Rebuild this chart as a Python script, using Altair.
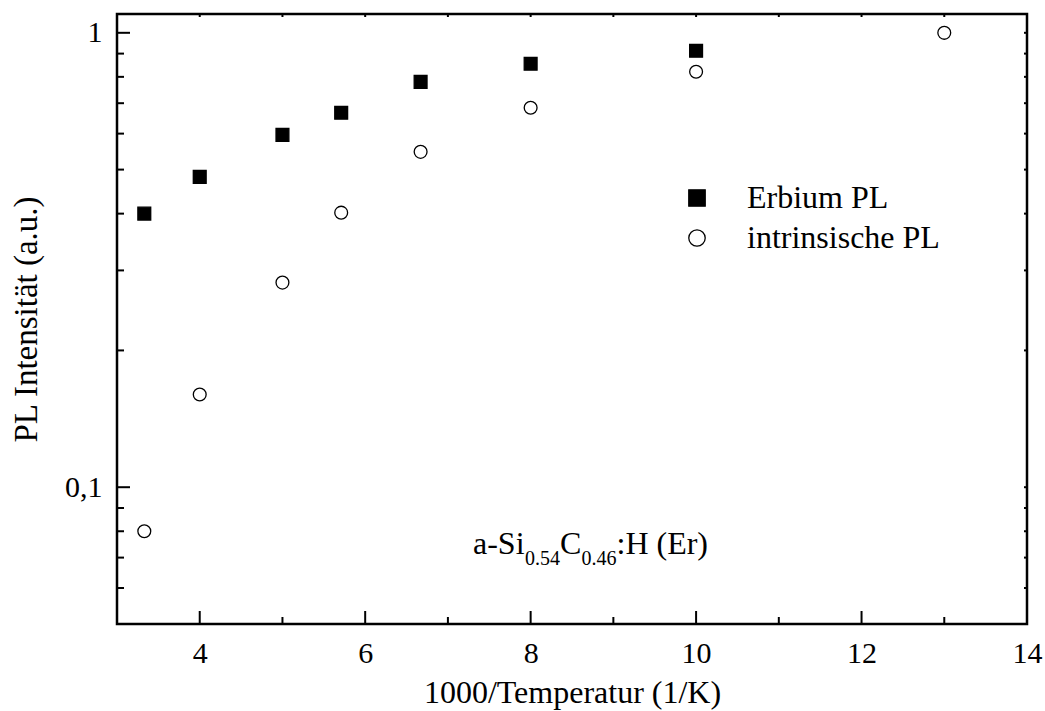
import altair as alt
import pandas as pd

# ---- data ----
inv_T = [3.33, 4.0, 5.0, 5.71, 6.67, 8.0, 10.0]
erbium_pl = [0.40, 0.482, 0.596, 0.667, 0.78, 0.855, 0.913]
inv_T_intr = [3.33, 4.0, 5.0, 5.71, 6.67, 8.0, 10.0, 13.0]
intrinsic_pl = [0.080, 0.160, 0.282, 0.402, 0.547, 0.684, 0.821, 1.0]

series_names = ["Erbium PL", "intrinsische PL"]

x_major = [4, 6, 8, 10, 12, 14]
x_minor = [5, 7, 9, 11, 13]
x_all = [4, 5, 6, 7, 8, 9, 10, 11, 12, 13]
y_major = [0.1, 1.0]
y_minor = [0.06, 0.07, 0.08, 0.09, 0.2, 0.3, 0.4, 0.5, 0.6, 0.7, 0.8, 0.9]
y_all = y_major + y_minor

FONT = "Liberation Serif"
W, H = 910, 610

df = pd.DataFrame({
    "x": inv_T + inv_T_intr,
    "y": erbium_pl + intrinsic_pl,
    "series": [series_names[0]] * len(inv_T) + [series_names[1]] * len(inv_T_intr),
})

xscale = alt.Scale(domain=[3, 14], nice=False, zero=False)
yscale = alt.Scale(type="log", domain=[0.05, 1.1], nice=False)

x_axis = alt.Axis(values=x_major, title="1000/Temperatur (1/K)", ticks=False, domain=False,
                  grid=False, labelPadding=14, titlePadding=9, labelFontSize=30,
                  titleFontSize=32, labelFont=FONT, titleFont=FONT, labelColor="black",
                  titleColor="black", titleFontWeight="normal", labelFlush=False)
y_axis = alt.Axis(values=y_major, title="PL Intensität (a.u.)", ticks=False, domain=False,
                  grid=False, labelPadding=15, titlePadding=21, labelFontSize=30,
                  titleFontSize=33, labelFont=FONT, titleFont=FONT, labelColor="black",
                  titleColor="black", titleFontWeight="normal", labelFlush=False,
                  labelExpr="replace(format(datum.value, '~g'), '.', ',')")

legend = alt.Legend(title=None, orient="none", legendX=564, legendY=168,
                    symbolSize=270, labelFontSize=32, labelFont=FONT, labelLimit=0,
                    labelColor="black", labelOffset=34, rowPadding=8, padding=0,
                    symbolStrokeColor="black", symbolStrokeWidth=1.3)

points = alt.Chart(df).mark_point(size=165, strokeWidth=1.3, opacity=1).encode(
    x=alt.X("x:Q", scale=xscale, axis=x_axis),
    y=alt.Y("y:Q", scale=yscale, axis=y_axis),
    shape=alt.Shape("series:N", scale=alt.Scale(domain=series_names, range=["square", "circle"]),
                    legend=legend),
    fill=alt.Fill("series:N", scale=alt.Scale(domain=series_names, range=["black", "white"]),
                  legend=legend),
    stroke=alt.Stroke("series:N", scale=alt.Scale(domain=series_names, range=["black", "black"]),
                      legend=legend),
)

def vrule(values, y0, y1):
    return alt.Chart(pd.DataFrame({"x": values})).mark_rule(color="black", strokeWidth=2).encode(
        x=alt.X("x:Q", scale=xscale, axis=x_axis), y=alt.value(y0), y2=alt.value(y1))

def hrule(values, x0, x1):
    return alt.Chart(pd.DataFrame({"y": values})).mark_rule(color="black", strokeWidth=2).encode(
        y=alt.Y("y:Q", scale=yscale, axis=y_axis), x=alt.value(x0), x2=alt.value(x1))

ticks = [
    vrule(x_major, H, H - 13),
    vrule(x_minor, H, H - 7),
    vrule(x_all, 0, 3),
    hrule(y_major, 0, 13),
    hrule(y_minor, 0, 7),
    hrule(y_all, W, W - 3),
]

def txt(s, x, y, size):
    return alt.Chart(pd.DataFrame({"t": [s]})).mark_text(
        align="left", baseline="alphabetic", font=FONT, fontSize=size, color="black"
    ).encode(text="t:N", x=alt.value(x), y=alt.value(y))

ax0 = 356
annot = [
    txt("a-Si", ax0, 540, 32),
    txt("0.54", ax0 + 52, 551, 20),
    txt("C", ax0 + 87, 540, 32),
    txt("0.46", ax0 + 108.5, 551, 20),
    txt(":H (Er)", ax0 + 143.5, 540, 32),
]

chart = alt.layer(points, *ticks, *annot).properties(
    width=W, height=H,
    autosize=alt.AutoSizeParams(type="none"),
    padding={"left": 117, "top": 14, "right": 18, "bottom": 87},
).configure(font=FONT, background="white").configure_view(stroke="black", strokeWidth=2.5)

chart.save("out.html", embed_options={"renderer": "svg", "actions": False})
